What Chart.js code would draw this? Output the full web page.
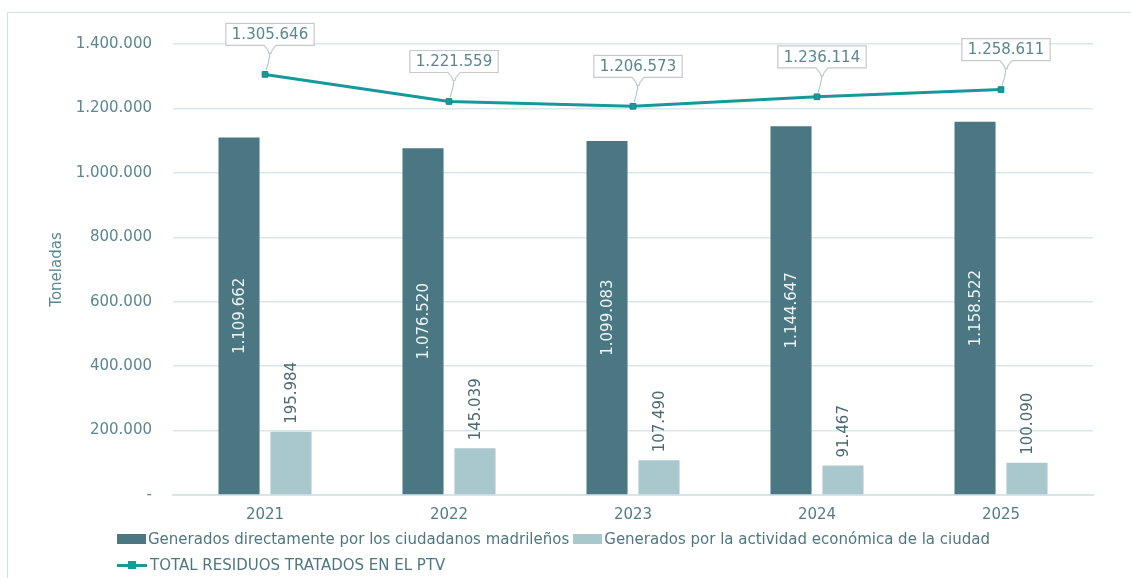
<!DOCTYPE html>
<html>
<head>
<meta charset="utf-8">
<script src="https://cdn.jsdelivr.net/npm/chart.js@4"></script>
<style>
  html, body { margin: 0; padding: 0; background: #fff; }
  #wrap { position: relative; width: 1131px; height: 578px; overflow: hidden; }
  #frame {
    position: absolute; left: 7px; top: 12px; width: 1200px; height: 700px;
    border-top: 1px solid #d3e2e8; border-left: 1px solid #d3e2e8;
  }
  canvas { position: absolute; left: 0; top: 0; }
  #legend {
    position: absolute; left: 117px; top: 526px;
    font-family: "DejaVu Sans", sans-serif; font-size: 15px; color: #4f7781;
  }
  .row { display: flex; align-items: center; height: 26px; white-space: nowrap; }
  .item { display: flex; align-items: center; margin-right: 4px; }
  .box { width: 29px; height: 10px; margin-right: 2px; }
  .ln { position: relative; width: 30px; height: 10px; margin-right: 3px; }
  .ln::before { content: ""; position: absolute; left: 0; right: 0; top: 4px; height: 3px; background: #17999b; }
  .ln::after { content: ""; position: absolute; left: 11px; top: 1px; width: 8px; height: 8px; background: #17999b; }
</style>
</head>
<body>
<div id="wrap">
  <div id="frame"></div>
  <canvas id="chart" width="1131" height="578"></canvas>
  <div id="legend"></div>
</div>
<script>
const years = ["2021", "2022", "2023", "2024", "2025"];
const ciudadanos = [1109662, 1076520, 1099083, 1144647, 1158522];
const actividad = [195984, 145039, 107490, 91467, 100090];
const totalPTV = [1305646, 1221559, 1206573, 1236114, 1258611];
const yTicks = [0, 200000, 400000, 600000, 800000, 1000000, 1200000, 1400000];

const FONT = "'DejaVu Sans', sans-serif";
const DARK = "#4a7782";
const LIGHT = "#a9c8cd";
const TEAL = "#17999b";

function fmt(v) {
  return String(v).replace(/\B(?=(\d{3})+(?!\d))/g, ".");
}

// value labels on both bar series, rotated like the original report
const barLabels = {
  id: "barLabels",
  afterDatasetsDraw(chart) {
    const ctx = chart.ctx;
    ctx.save();
    ctx.font = "15px " + FONT;
    ctx.textBaseline = "middle";
    chart.getDatasetMeta(0).data.forEach((bar, i) => {
      ctx.save();
      ctx.translate(bar.x, (bar.y + bar.base) / 2);
      ctx.rotate(-Math.PI / 2);
      ctx.textAlign = "center";
      ctx.fillStyle = "#eef4f5";
      ctx.fillText(fmt(ciudadanos[i]), 0, 1);
      ctx.restore();
    });
    chart.getDatasetMeta(1).data.forEach((bar, i) => {
      ctx.save();
      ctx.translate(bar.x, bar.y - 8);
      ctx.rotate(-Math.PI / 2);
      ctx.textAlign = "left";
      ctx.fillStyle = "#4b6a72";
      ctx.fillText(fmt(actividad[i]), 0, 1);
      ctx.restore();
    });
    ctx.restore();
  }
};

// callout boxes above the total line
const callouts = {
  id: "callouts",
  afterDatasetsDraw(chart) {
    const ctx = chart.ctx;
    ctx.save();
    ctx.font = "15px " + FONT;
    chart.getDatasetMeta(2).data.forEach((pt, i) => {
      const text = fmt(totalPTV[i]);
      const w = ctx.measureText(text).width + 12;
      const h = 22;
      const cx = pt.x + 5;
      const bottom = pt.y - 29;
      const top = bottom - h;
      const left = cx - w / 2;

      // leader from the notch to the point
      ctx.strokeStyle = "#9fc0c7";
      ctx.lineWidth = 1;
      ctx.beginPath();
      ctx.moveTo(cx, bottom + 8);
      ctx.quadraticCurveTo(cx - 1, pt.y - 12, pt.x + 1, pt.y - 4);
      ctx.stroke();

      // box with a small downward notch
      ctx.beginPath();
      ctx.moveTo(left, top);
      ctx.lineTo(left + w, top);
      ctx.lineTo(left + w, bottom);
      ctx.lineTo(cx + 6, bottom);
      ctx.lineTo(cx + 2, bottom + 5);
      ctx.lineTo(cx + 1, bottom + 8);
      ctx.lineTo(cx - 1, bottom + 8);
      ctx.lineTo(cx - 2, bottom + 5);
      ctx.lineTo(cx - 6, bottom);
      ctx.lineTo(left, bottom);
      ctx.closePath();
      ctx.fillStyle = "#ffffff";
      ctx.fill();
      ctx.strokeStyle = "#c6c9ca";
      ctx.lineWidth = 1.2;
      ctx.stroke();

      ctx.fillStyle = "#5a8690";
      ctx.textAlign = "center";
      ctx.textBaseline = "middle";
      ctx.fillText(text, cx, top + h / 2 + 1);
    });
    ctx.restore();
  }
};

const chart = new Chart(document.getElementById("chart"), {
  type: "bar",
  data: {
    labels: years,
    datasets: [
      {
        label: "Generados directamente por los ciudadanos madrileños",
        data: ciudadanos,
        backgroundColor: DARK,
        categoryPercentage: 0.565,
        barPercentage: 0.79,
        order: 2
      },
      {
        label: "Generados por la actividad económica de la ciudad",
        data: actividad,
        backgroundColor: LIGHT,
        categoryPercentage: 0.565,
        barPercentage: 0.79,
        order: 2
      },
      {
        type: "line",
        label: "TOTAL RESIDUOS TRATADOS EN EL PTV",
        data: totalPTV,
        borderColor: TEAL,
        backgroundColor: TEAL,
        borderWidth: 3,
        pointStyle: "rect",
        pointRadius: 4,
        pointBorderColor: "#13868a",
        pointBorderWidth: 1,
        tension: 0,
        order: 1
      }
    ]
  },
  options: {
    responsive: false,
    animation: false,
    layout: { padding: { left: 44, right: 38, top: 44, bottom: 43 } },
    plugins: {
      legend: { display: false },
      tooltip: { enabled: false }
    },
    scales: {
      x: {
        grid: { display: false, drawTicks: false },
        border: { color: "#d7e4e9", width: 2 },
        ticks: { color: "#557c86", font: { family: FONT, size: 15 }, padding: 11 }
      },
      y: {
        min: 0,
        max: 1400000,
        afterBuildTicks(axis) {
          axis.ticks = yTicks.map(v => ({ value: v }));
        },
        afterFit(axis) {
          axis.width = 129;
        },
        grid: { color: "#d7e7ec", lineWidth: 1.5, drawTicks: false },
        border: { display: false },
        ticks: {
          color: "#5b8791",
          font: { family: FONT, size: 15 },
          padding: 21,
          callback: v => (v === 0 ? "-" : fmt(v))
        },
        title: {
          display: true,
          text: "Toneladas",
          color: "#5b8791",
          font: { family: FONT, size: 15 }
        }
      }
    }
  },
  plugins: [barLabels, callouts]
});

// legend built from the chart's own datasets
const legend = document.getElementById("legend");
const ds = chart.data.datasets;
legend.innerHTML =
  '<div class="row">' +
  ds.slice(0, 2).map(d =>
    '<span class="item"><span class="box" style="background:' + d.backgroundColor + '"></span>' + d.label + '</span>'
  ).join("") +
  '</div>' +
  '<div class="row"><span class="item"><span class="ln"></span>' + ds[2].label + '</span></div>';
</script>
</body>
</html>
